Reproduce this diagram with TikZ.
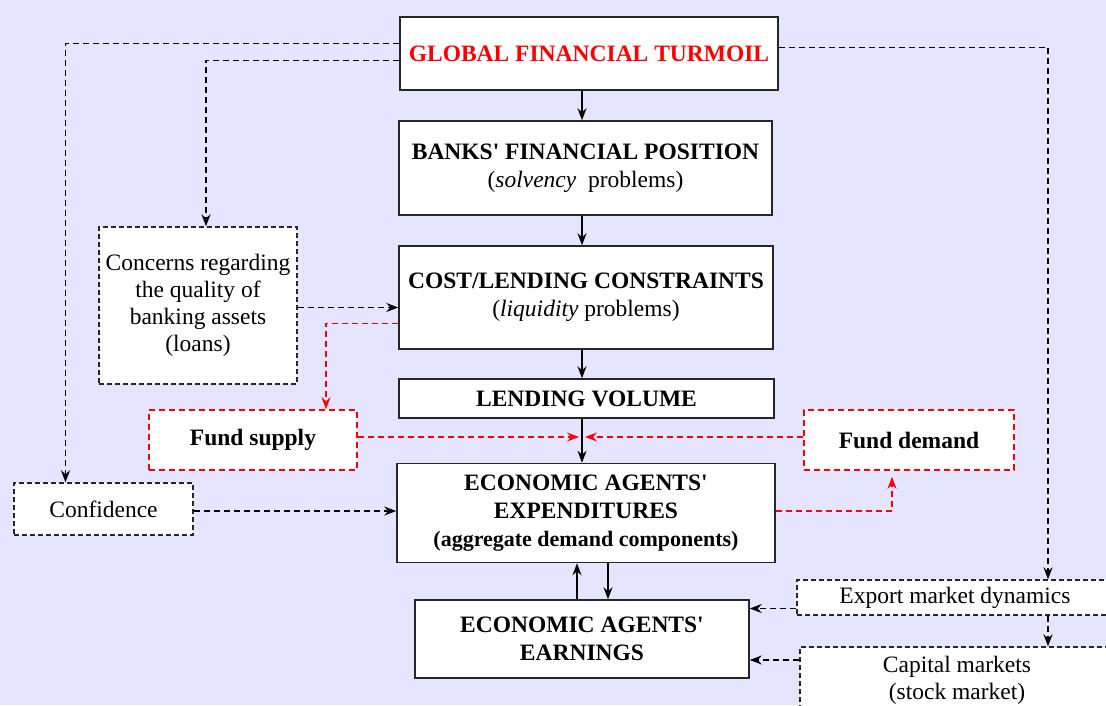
\documentclass[tikz,border=0pt]{standalone}
\usepackage{fontspec}
\setmainfont{Liberation Serif}
\usetikzlibrary{arrows.meta, positioning}
\definecolor{lavender}{RGB}{229,229,255}
\definecolor{turmoilred}{RGB}{255,0,0}
\tikzset{mainbox/.style={draw=black!85, fill=white, line width=1.5pt, align=center, inner sep=2pt, font=\fontsize{23.5}{28}\selectfont\bfseries},sidebox/.style={draw=black!85, fill=white, line width=1.4pt, dash pattern=on 5pt off 3pt, align=center, inner sep=2pt}}

\begin{document}
\begin{tikzpicture}[
        x=1pt, y=-1pt,
        font=\fontsize{23.5}{27}\selectfont,
        fundbox/.style={draw=turmoilred, fill=white, line width=1.6pt, dash pattern=on 6pt off 4pt, align=center, inner sep=2pt, font=\fontsize{23.5}{27}\selectfont\bfseries},
        solidarrow/.style={-{Stealth[length=12pt, width=9pt, inset=4pt]}, line width=1.7pt},
        dasharrow/.style={-{Stealth[length=12pt, width=9pt, inset=4pt]}, line width=1.7pt, dash pattern=on 6pt off 4pt},
        reddasharrow/.style={dasharrow, turmoilred},
    ]
        % Background
        \fill[lavender] (0, 0) rectangle (1106, 705);
        \useasboundingbox (0, 0) rectangle (1106, 705);
        \clip (0, 0) rectangle (1106, 705);
        \coordinate (spine) at (582, 0);
        % Main column
        \node[mainbox, minimum width=378pt, minimum height=73pt, text=turmoilred] (gft) at (589, 53.5) {GLOBAL FINANCIAL TURMOIL};
        \node[mainbox, minimum width=373pt, minimum height=94pt] (banks) at (585.5, 168) {BANKS\textquotesingle\ FINANCIAL POSITION\\{\mdseries(\textit{solvency}\ \ problems)}};
        \node[mainbox, minimum width=374pt, minimum height=103pt] (cost) at (586, 297.5) {COST/LENDING CONSTRAINTS\\{\mdseries(\textit{liquidity} problems)}};
        \node[mainbox, minimum width=375pt, minimum height=39pt] (lending) at (586.5, 398.5) {LENDING VOLUME};
        \node[mainbox, minimum width=378pt, minimum height=99pt] (expend) at (586, 513) {ECONOMIC AGENTS\textquotesingle\\EXPENDITURES\\{\fontsize{22}{28}\selectfont(aggregate demand components)}};
        \node[mainbox, minimum width=334pt, minimum height=78pt] (earn) at (582, 639) {ECONOMIC AGENTS\textquotesingle\\EARNINGS};
        % Side boxes
        \node[sidebox, minimum width=198pt, minimum height=157pt] (concerns) at (198, 305.5) {Concerns regarding\\the quality of\\banking assets\\(loans)};
        \node[sidebox, minimum width=179pt, minimum height=52pt] (conf) at (103.5, 509) {Confidence};
        \node[sidebox, minimum width=316pt, minimum height=35pt] (export) at (955, 597.5) {Export market dynamics};
        \node[sidebox, minimum width=314pt, minimum height=66pt] (capital) at (957, 680) {Capital markets\\(stock market)};
        \node[fundbox, minimum width=208pt, minimum height=60pt] (fsupply) at (253, 440) {Fund supply};
        \node[fundbox, minimum width=210pt, minimum height=60pt] (fdemand) at (909, 440) {Fund demand};
        % Solid arrows
        \draw[solidarrow] (gft.south -| spine) -- (banks.north -| spine);
        \draw[solidarrow] (banks.south -| spine) -- (cost.north -| spine);
        \draw[solidarrow] (cost.south -| spine) -- (lending.north -| spine);
        \draw[solidarrow] (lending.south -| spine) -- (expend.north -| spine);
        \draw[solidarrow] ([xshift=-5pt]earn.north) -- ([xshift=-5pt]earn.north |- expend.south);
        \draw[solidarrow] ([xshift=26pt]earn.north |- expend.south) -- ([xshift=26pt]earn.north);
        % Dashed arrows
        \draw[dasharrow] ([yshift=10pt]gft.west) -| ([xshift=-38pt]conf.north);
        \draw[dasharrow] ([yshift=-7pt]gft.west) -| ([xshift=8pt]concerns.north);
        \draw[dasharrow] ([yshift=6pt]gft.east) -| ([xshift=93pt]export.north);
        \draw[dasharrow] ([xshift=93pt]export.south) -- ([xshift=93pt]export.south |- capital.north);
        \draw[dasharrow] ([yshift=-2pt]concerns.east) -- ([yshift=-2pt]concerns.east -| cost.west);
        \draw[dasharrow] ([yshift=-2pt]conf.east) -- ([yshift=-2pt]conf.east -| expend.west);
        \draw[dasharrow] ([yshift=-11pt]export.west) -- ([yshift=-11pt]export.west -| earn.east);
        \draw[dasharrow] ([yshift=20pt]capital.west) -- ([yshift=20pt]capital.west -| earn.east);
        % Red dashed arrows
        \draw[reddasharrow] ([yshift=-26pt]cost.west) -| ([xshift=73pt]fsupply.north);
        \draw[reddasharrow] ([yshift=3pt]fsupply.east) -- ([xshift=-3pt, yshift=3pt]fsupply.east -| spine);
        \draw[reddasharrow] ([yshift=3pt]fdemand.west) -- ([xshift=3pt, yshift=3pt]fdemand.west -| spine);
        \draw[reddasharrow] ([yshift=2pt]expend.east) -| ([xshift=-17pt, yshift=-6pt]fdemand.south);
    \end{tikzpicture}
\end{document}
